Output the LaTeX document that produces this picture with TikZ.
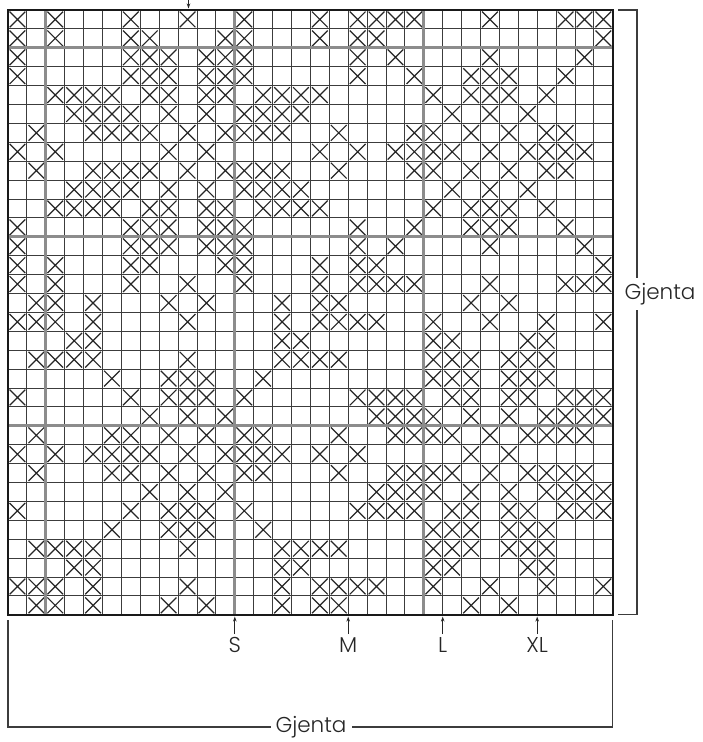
\documentclass[tikz,border=0pt]{standalone}
\usepackage{fontspec}
\newfontfamily\lblfont{Poppins Light}
\usetikzlibrary{arrows.meta}
\definecolor{thinline}{HTML}{3C3C3C}
\definecolor{thickgray}{HTML}{8C8C8C}
\definecolor{xcol}{HTML}{262626}
\tikzset{
  gridthin/.style={draw=thinline,line width=0.9pt},
  gridthick/.style={draw=thickgray,line width=2.8pt},
  gridborder/.style={draw=black!90,line width=2.6pt},
  xmark/.style={draw=xcol,line width=1.2pt},
  bracket/.style={draw=thinline,line width=1.2pt},
  sizearrow/.style={draw=xcol,line width=0.9pt,-{Stealth[length=5pt,width=3.5pt]}},
  lbl/.style={font=\lblfont\fontsize{21.5}{23}\selectfont,text=xcol,inner sep=2pt},
  lblwhite/.style={lbl,fill=white,inner sep=5pt}
}
\begin{document}
\begin{tikzpicture}[x=1pt,y=-1pt]
\useasboundingbox (0,0) rectangle (702,742);
\fill[white] (0,0) rectangle (702,742);
\def\cs{18.9}
\def\gx{8}
\def\gy{10}
% X marks
\foreach \r/\cl in {
 0/{0,2,6,9,12,16,18,19,20,21,25,29,30,31},
 1/{0,2,6,7,11,12,16,18,19,31},
 2/{0,6,7,8,10,11,12,18,20,25,30},
 3/{0,6,7,8,10,11,12,18,21,24,25,26,29},
 4/{2,3,4,5,7,8,10,11,13,14,15,16,22,24,25,26,28},
 5/{3,4,5,6,8,10,12,13,14,15,23,25,27},
 6/{1,4,5,6,7,9,11,12,13,14,17,21,22,24,26,28,29},
 7/{0,2,8,10,16,18,20,21,22,23,25,27,28,29,30},
 8/{1,4,5,6,7,9,11,12,13,14,17,21,22,24,26,28,29},
 9/{3,4,5,6,8,10,12,13,14,15,23,25,27},
 10/{2,3,4,5,7,8,10,11,13,14,15,16,22,24,25,26,28},
 11/{0,6,7,8,10,11,12,18,21,24,25,26,29},
 12/{0,6,7,8,10,11,12,18,20,25,30},
 13/{0,2,6,7,11,12,16,18,19,31},
 14/{0,2,6,9,12,16,18,19,20,21,25,29,30,31},
 15/{1,2,4,8,10,14,16,17,24,26},
 16/{0,1,2,4,9,14,16,17,18,19,22,25,28,31},
 17/{3,4,14,15,22,23,27,28},
 18/{1,2,3,4,9,14,15,16,17,22,23,24,26,27,28},
 19/{5,8,9,10,13,22,23,24,26,27,28},
 20/{0,6,8,9,10,12,18,19,20,21,23,24,26,27,29,30,31},
 21/{7,9,11,19,20,21,22,24,26,28,29,30,31},
 22/{1,5,6,8,10,12,13,17,20,21,22,23,25,27,28,29,30},
 23/{0,2,4,5,6,7,9,11,12,13,14,16,18,24,26},
 24/{1,5,6,8,10,12,13,17,20,21,22,23,25,27,28,29,30},
 25/{7,9,11,19,20,21,22,24,26,28,29,30,31},
 26/{0,6,8,9,10,12,18,19,20,21,23,24,26,27,29,30,31},
 27/{5,8,9,10,13,22,23,24,26,27,28},
 28/{1,2,3,4,9,14,15,16,17,22,23,24,26,27,28},
 29/{3,4,14,15,22,23,27,28},
 30/{0,1,2,4,9,14,16,17,18,19,22,25,28,31},
 31/{1,2,4,8,10,14,16,17,24,26}}{
  \foreach \c in \cl {
    \pgfmathsetmacro{\xa}{\gx+\cs*\c+1.6}
    \pgfmathsetmacro{\xb}{\gx+\cs*(\c+1)-1.6}
    \pgfmathsetmacro{\ya}{\gy+\cs*\r+1.6}
    \pgfmathsetmacro{\yb}{\gy+\cs*(\r+1)-1.6}
    \draw[xmark] (\xa,\ya) -- (\xb,\yb) (\xa,\yb) -- (\xb,\ya);
  }
}
% thin grid lines
\foreach \k in {1,...,31}{
  \pgfmathsetmacro{\p}{\gx+\cs*\k}
  \pgfmathsetmacro{\q}{\gy+\cs*\k}
  \draw[gridthin] (\p,\gy) -- (\p,{\gy+32*\cs});
  \draw[gridthin] (\gx,\q) -- ({\gx+32*\cs},\q);
}
% thick gray lines
\foreach \k in {2,12,22}{
  \pgfmathsetmacro{\p}{\gx+\cs*\k}
  \pgfmathsetmacro{\q}{\gy+\cs*\k}
  \draw[gridthick] (\p,\gy) -- (\p,{\gy+32*\cs});
  \draw[gridthick] (\gx,\q) -- ({\gx+32*\cs},\q);
}
% border
\coordinate (gtl) at (\gx,\gy);
\coordinate (gbr) at ({\gx+32*\cs},{\gy+32*\cs});
\draw[gridborder] (gtl) rectangle (gbr);
% top arrow
\coordinate (topstart) at (188.5,-2);
\coordinate (topend) at (188.5,8.5);
\draw[sizearrow] (topstart) -- (topend);
% size labels and arrows
\foreach \nm/\txt/\k in {s/S/12,m/M/18,l/L/23,xl/XL/28}{
  \pgfmathsetmacro{\p}{\gx+\cs*\k}
  \node[lbl,anchor=north] (\nm) at (\p,635) {\txt};
  \coordinate (\nm tip) at (\p,616.5);
  \draw[sizearrow] (\p,634) -- (\nm tip);
}
% right bracket
\coordinate (rbt) at (637,10);
\coordinate (rbb) at (637,614.8);
\draw[bracket] (618,10) -- (rbt) -- (rbb) -- (618,614.8);
\node[lblwhite] (gjr) at (660,294) {Gjenta};
% bottom bracket
\coordinate (bbl) at (8,727);
\coordinate (bbr) at (612.8,727);
\draw[bracket] (8,620) -- (bbl) -- (bbr) -- (612.8,620);
\node[lblwhite] (gjb) at (311,727) {Gjenta};
\end{tikzpicture}
\end{document}
